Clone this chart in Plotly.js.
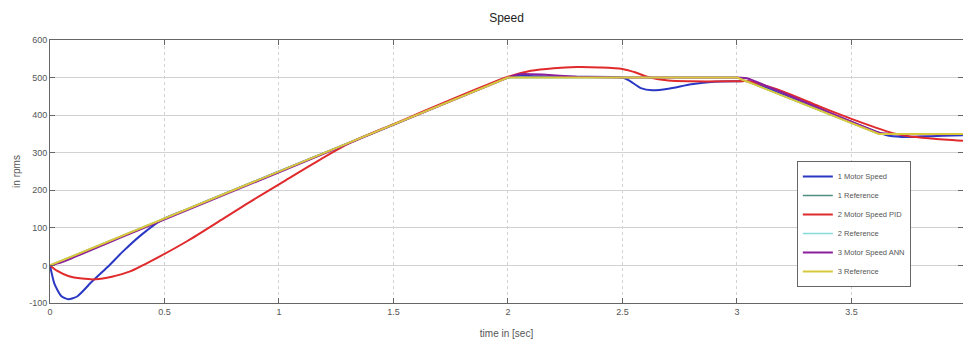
<!DOCTYPE html>
<html>
<head>
<meta charset="utf-8">
<script src="https://cdn.plot.ly/plotly-3.0.1.min.js"></script>
<style>html,body{margin:0;padding:0;background:#fff;}#chart{width:963px;height:347px;}</style>
</head>
<body>
<div id="chart"></div>
<script>
// Reference speed profile (same for all three systems)
const refT = [0, 2.0, 3.0, 3.62, 4.0];
const refV = [0, 500, 500, 350, 350];

// 1 Motor Speed
const m1T = [0, 0.02, 0.05, 0.08, 0.12, 0.18, 0.25, 0.32, 0.40, 0.49, 0.6, 0.8, 1.0, 1.5, 2.0, 2.05, 2.2, 2.5, 2.53, 2.58, 2.63, 2.7, 2.8, 2.9, 3.0, 3.05, 3.3, 3.6, 3.65, 3.72, 3.8, 3.9, 4.0];
const m1V = [0, -50, -82, -90, -82, -45, -5, 38, 82, 122, 150, 200, 250, 375, 500, 505, 502, 500, 492, 472, 466, 470, 482, 489, 490, 490, 430, 358, 347, 342, 343, 345, 347];

// 2 Motor Speed PID
const m2T = [0, 0.03, 0.08, 0.14, 0.2, 0.27, 0.35, 0.42, 0.48, 0.6, 0.75, 0.87, 1.02, 1.15, 1.31, 1.5, 2.0, 2.1, 2.2, 2.3, 2.4, 2.5, 2.55, 2.62, 2.7, 2.8, 3.0, 3.05, 3.2, 3.36, 3.5, 3.6, 3.68, 3.75, 3.85, 4.0];
const m2V = [0, -14, -28, -35, -37, -30, -16, 5, 24, 65, 122, 168, 223, 271, 326, 376, 502, 518, 525, 528, 527, 523, 515, 500, 492, 490, 490, 490, 463, 423, 390, 368, 352, 344, 338, 331];

// 3 Motor Speed ANN
const m3T = [0, 0.05, 0.3, 1.0, 2.0, 2.05, 2.15, 2.3, 2.5, 3.0, 3.05, 3.62, 3.7, 4.0];
const m3V = [0, 8, 72, 248, 500, 509, 508, 502, 500, 500, 497, 353, 349, 350];

const names = ["1 Motor Speed", "1 Reference", "2 Motor Speed PID", "2 Reference", "3 Motor Speed ANN", "3 Reference"];
const colors = ["#2b38c4", "#4f8f80", "#e02a2c", "#86dada", "#8c1f9c", "#d8c93c"];

const series = [[m1T, m1V], [refT, refV], [m2T, m2V], [refT, refV], [m3T, m3V], [refT, refV]];
const widths = [2, 1.5, 2, 1.5, 2, 2];
const smooth = [0.6, 0, 0.8, 0, 0.3, 0];

const traces = series.map((s, i) => ({
  x: s[0], y: s[1], type: "scatter", mode: "lines", name: names[i],
  line: {color: colors[i], width: widths[i], shape: smooth[i] > 0 ? "spline" : "linear", smoothing: smooth[i] || 1}
}));

const xTicks = [0, 0.5, 1, 1.5, 2, 2.5, 3, 3.5];
const xTickText = ["0", "0.5", "1", "1.5", "2", "2.5", "3", "3.5"];
const yTicks = [-100, 0, 100, 200, 300, 400, 500, 600];
const yTickText = ["-100", "0", "100", "200", "300", "400", "500", "600"];

const font = {family: "Liberation Sans, Arial, sans-serif", size: 9, color: "#555"};

const layout = {
  width: 963, height: 347,
  margin: {l: 50, r: 0, t: 40, b: 44},
  paper_bgcolor: "#fff", plot_bgcolor: "#fff",
  font: font,
  title: {text: "Speed", font: {family: "Liberation Sans, Arial, sans-serif", size: 12, color: "#222"}, x: 0.5, xref: "paper", y: 0.95, yref: "container", yanchor: "middle"},
  xaxis: {
    range: [0, 3.987], tickvals: xTicks, ticktext: xTickText,
    showgrid: true, gridcolor: "#d2d2d2", griddash: "dot", gridwidth: 1,
    zeroline: false, showline: true, linecolor: "#666", linewidth: 1, mirror: "ticks",
    ticks: "inside", ticklen: 5, tickcolor: "#666",
    tickfont: font,
    title: {text: "time in [sec]", font: {family: "Liberation Sans, Arial, sans-serif", size: 10, color: "#555"}, standoff: 14}
  },
  yaxis: {
    range: [-100, 600], tickvals: yTicks, ticktext: yTickText,
    showgrid: true, gridcolor: "#d2d2d2", gridwidth: 1,
    zeroline: false, showline: true, linecolor: "#666", linewidth: 1, mirror: "ticks",
    ticks: "inside", ticklen: 5, tickcolor: "#666",
    tickfont: font,
    title: {text: "in rpms", font: {family: "Liberation Sans, Arial, sans-serif", size: 10, color: "#555"}, standoff: 6}
  },
  showlegend: true,
  legend: {
    x: 0.818, y: 0.54, xanchor: "left", yanchor: "top",
    bgcolor: "#fff", bordercolor: "#666", borderwidth: 1,
    font: {family: "Liberation Sans, Arial, sans-serif", size: 7.5, color: "#555"},
    tracegroupgap: 0, itemwidth: 30
  }
};

Plotly.newPlot("chart", traces, layout, {displayModeBar: false, staticPlot: true});
</script>
</body>
</html>
